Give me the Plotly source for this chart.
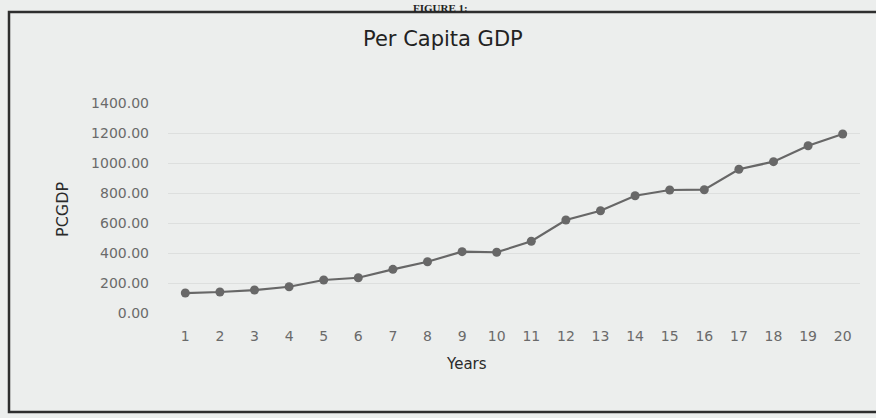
import plotly.graph_objects as go

# Per capita GDP series, years 1..20
years = list(range(1, 21))
pcgdp = [133, 140, 153, 175, 220, 235, 291, 342, 409, 405,
         478, 620, 682, 782, 820, 822, 958, 1009, 1115, 1193]
y_ticks = [0, 200, 400, 600, 800, 1000, 1200, 1400]

W, H = 876, 418
L, R, T, B = 168, 16, 103, 105
pw, ph = W - L - R, H - T - B


def px(x):
    return (x - L) / pw


def py(y):
    return (H - B - y) / ph


paper_bg = "#eceeed"
tick_grey = "#6a6a6a"
FONT = "DejaVu Sans"

fig = go.Figure()
fig.add_trace(go.Scatter(
    x=years, y=pcgdp, mode="lines+markers",
    line=dict(color="#676767", width=2.2),
    marker=dict(symbol="circle", size=9, color="#686868"),
    showlegend=False,
))

fig.update_layout(
    width=W, height=H,
    margin=dict(l=L, r=R, t=T, b=B),
    paper_bgcolor=paper_bg, plot_bgcolor=paper_bg,
    font=dict(family=FONT, color=tick_grey),
    xaxis=dict(
        range=[0.5, 20.5], tickmode="array", tickvals=years,
        ticktext=[str(v) for v in years],
        showgrid=False, zeroline=False, showline=False, ticks="",
        tickfont=dict(size=14, color=tick_grey, family=FONT),
        ticklabelstandoff=13,
    ),
    yaxis=dict(
        range=[0, 1400], tickmode="array", tickvals=y_ticks,
        ticktext=[f"{v:.2f}" for v in y_ticks],
        showgrid=True, gridcolor="#dddfde", gridwidth=1,
        zeroline=False, showline=False, ticks="",
        tickfont=dict(size=14, color=tick_grey, family=FONT),
        ticklabelstandoff=18,
    ),
    shapes=[
        dict(type="rect", xref="paper", yref="paper",
             x0=px(9), x1=px(900), y0=py(412), y1=py(12),
             line=dict(color="#2e2e2e", width=2.5), layer="below"),
    ],
    annotations=[
        dict(text="<b>FIGURE 1:</b>", xref="paper", yref="paper",
             x=px(440), y=py(0), xanchor="center", yanchor="top",
             showarrow=False,
             font=dict(family="Liberation Serif", size=11, color="#222222")),
        dict(text="Per Capita GDP", xref="paper", yref="paper",
             x=px(443), y=py(39), xanchor="center", yanchor="middle",
             showarrow=False,
             font=dict(family=FONT, size=21, color="#222222")),
        dict(text="PCGDP", xref="paper", yref="paper",
             x=px(62), y=py(209), xanchor="center", yanchor="middle",
             textangle=-90, showarrow=False,
             font=dict(family=FONT, size=16, color="#2a2a2a")),
        dict(text="Years", xref="paper", yref="paper",
             x=px(466), y=py(364), xanchor="center", yanchor="middle",
             showarrow=False,
             font=dict(family=FONT, size=15, color="#2a2a2a")),
    ],
)

fig.write_html("out.html")
